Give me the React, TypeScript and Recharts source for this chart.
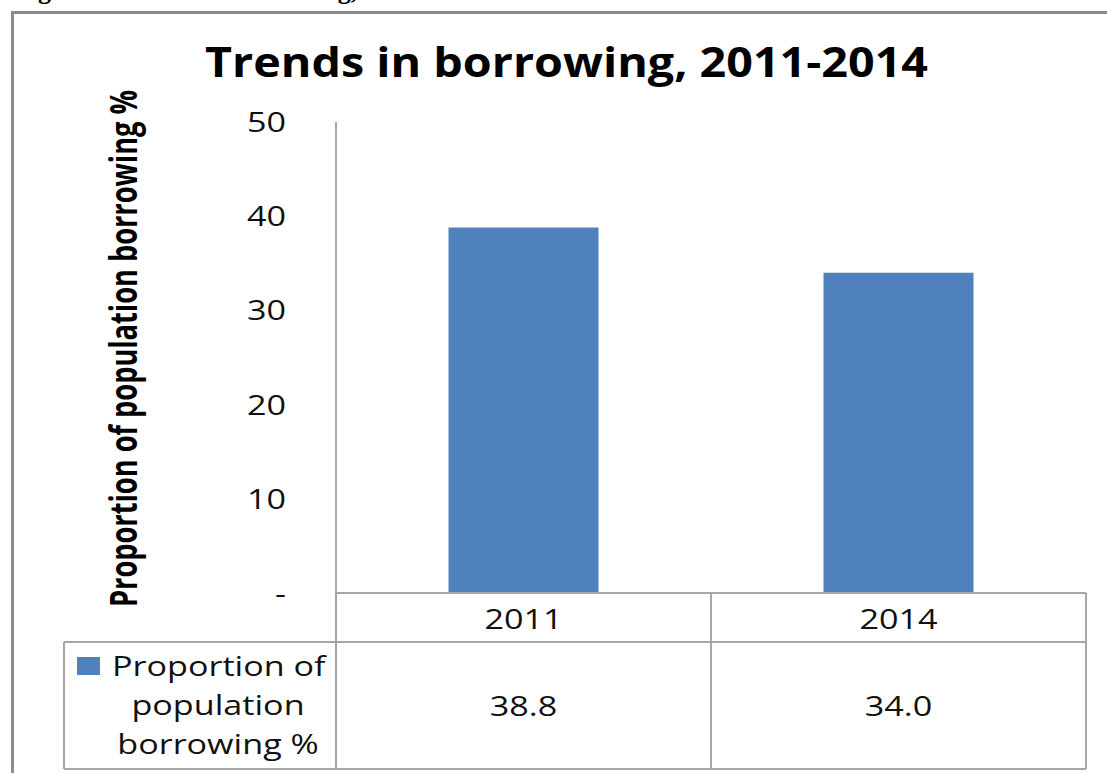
import React from 'react'
import { BarChart, Bar, XAxis, YAxis } from 'recharts'

const years = ['2011', '2014']
const borrowingPct = [38.8, 34.0]
const yTicks = [0, 10, 20, 30, 40, 50]
const seriesName = 'Proportion of population borrowing %'
const legendLines = ['Proportion of', 'population', 'borrowing %']
const chartTitle = 'Trends in borrowing, 2011-2014'
const captionText = 'Figure 4: Trends in borrowing, 2011-2014'

const data = years.map((year, i) => ({ year, value: borrowingPct[i] }))

const W = 1107
const H = 773
const PLOT_LEFT = 336
const PLOT_RIGHT = 1086
const PLOT_TOP = 122
const PLOT_BOTTOM = 593
const TABLE_BOTTOM = 769
const HEADER_ROW = 49
const BAR_COLOR = '#4F81BD'
const LINE_COLOR = '#A6A6A6'
const FONT = '"Open Sans", sans-serif'
const Y_LABEL_SQUEEZE = 0.74

const bandHalf = (PLOT_RIGHT - PLOT_LEFT) / years.length / 2

function YTick(props: any) {
  const { x, y, payload } = props
  const label = payload.value === 0 ? '-' : String(payload.value)
  return (
    <text
      transform={`translate(${x},${y + 10}) scale(1.22,1)`}
      textAnchor="end"
      fontFamily={FONT}
      fontSize={28}
      fill="#111"
    >
      {label}
    </text>
  )
}

function XTick(props: any) {
  const { x, y, index } = props
  const value = borrowingPct[index]
  const left = x - bandHalf
  const right = x + bandHalf
  const bottom = TABLE_BOTTOM - PLOT_BOTTOM
  return (
    <g>
      {index === 0 && (
        <line x1={left} x2={left} y1={y} y2={y + bottom} stroke={LINE_COLOR} strokeWidth={2} />
      )}
      <line x1={right} x2={right} y1={y} y2={y + bottom} stroke={LINE_COLOR} strokeWidth={2} />
      <line x1={left} x2={right} y1={y + HEADER_ROW} y2={y + HEADER_ROW} stroke={LINE_COLOR} strokeWidth={2} />
      <line x1={left} x2={right} y1={y + bottom} y2={y + bottom} stroke={LINE_COLOR} strokeWidth={2} />
      <text
        transform={`translate(${x},${y + 36}) scale(1.22,1)`}
        textAnchor="middle"
        fontFamily={FONT}
        fontSize={28}
        fill="#111"
      >
        {years[index]}
      </text>
      <text
        transform={`translate(${x},${y + 123}) scale(1.22,1)`}
        textAnchor="middle"
        fontFamily={FONT}
        fontSize={28}
        fill="#111"
      >
        {value.toFixed(1)}
      </text>
    </g>
  )
}

export default function App() {
  return (
    <div
      style={{
        position: 'absolute',
        left: 0,
        top: 0,
        width: W,
        height: H,
        overflow: 'hidden',
        background: '#fff',
      }}
    >
      {/* caption cut off by the top of the page */}
      <div
        style={{
          position: 'absolute',
          left: 15,
          top: -22,
          fontFamily: '"Liberation Serif", serif',
          fontWeight: 'bold',
          fontSize: 26,
          lineHeight: '26px',
          whiteSpace: 'nowrap',
          color: '#000',
        }}
      >
        {captionText}
      </div>

      {/* outer chart frame */}
      <div
        style={{
          position: 'absolute',
          left: 11,
          top: 11,
          width: W + 20,
          height: H + 20,
          borderLeft: '3px solid #8C8C8C',
          borderTop: '3px solid #8C8C8C',
        }}
      />

      <div style={{ position: 'absolute', left: 0, top: 0 }}>
        <BarChart
          width={W}
          height={H}
          data={data}
          margin={{ top: PLOT_TOP, right: W - PLOT_RIGHT, bottom: 4, left: PLOT_LEFT - 60 }}
          barCategoryGap="30%"
        >
          <YAxis
            width={60}
            domain={[0, 50]}
            ticks={yTicks}
            tickLine={false}
            tickSize={0}
            tickMargin={50}
            axisLine={{ stroke: '#8C8C8C', strokeWidth: 1.5 }}
            tick={<YTick />}
            interval={0}
          />
          <XAxis
            dataKey="year"
            height={H - 4 - PLOT_BOTTOM}
            tickLine={false}
            tickSize={0}
            tickMargin={0}
            axisLine={{ stroke: LINE_COLOR, strokeWidth: 2 }}
            tick={<XTick />}
            interval={0}
          />
          <Bar dataKey="value" name={seriesName} fill={BAR_COLOR} isAnimationActive={false} />
        </BarChart>
      </div>

      {/* title, axis title and legend key cell */}
      <svg
        width={W}
        height={H}
        style={{ position: 'absolute', left: 0, top: 0, pointerEvents: 'none' }}
      >
        <text
          x={205}
          y={77}
          textLength={723}
          lengthAdjust="spacingAndGlyphs"
          fontFamily={FONT}
          fontWeight="bold"
          fontSize={42}
          fill="#000"
        >
          {chartTitle}
        </text>
        <text
          transform={`translate(137,607) rotate(-90) scale(${Y_LABEL_SQUEEZE},1)`}
          x={0}
          y={0}
          textLength={517 / Y_LABEL_SQUEEZE}
          lengthAdjust="spacingAndGlyphs"
          fontFamily={FONT}
          fontWeight="bold"
          fontSize={37}
          fill="#000"
        >
          {seriesName}
        </text>
        <line x1={64} x2={PLOT_LEFT} y1={PLOT_BOTTOM + HEADER_ROW} y2={PLOT_BOTTOM + HEADER_ROW} stroke={LINE_COLOR} strokeWidth={2} />
        <line x1={64} x2={PLOT_LEFT} y1={TABLE_BOTTOM} y2={TABLE_BOTTOM} stroke={LINE_COLOR} strokeWidth={2} />
        <line x1={64} x2={64} y1={PLOT_BOTTOM + HEADER_ROW} y2={TABLE_BOTTOM} stroke={LINE_COLOR} strokeWidth={2} />
        <rect x={77} y={657} width={23} height={18} fill={BAR_COLOR} />
        {legendLines.map((line, i) => (
          <text
            key={line}
            transform={`translate(${i === 0 ? 112 : 218},${676 + i * 39}) scale(1.22,1)`}
            textAnchor={i === 0 ? 'start' : 'middle'}
            fontFamily={FONT}
            fontSize={28}
            fill="#111"
          >
            {line}
          </text>
        ))}
      </svg>
    </div>
  )
}
